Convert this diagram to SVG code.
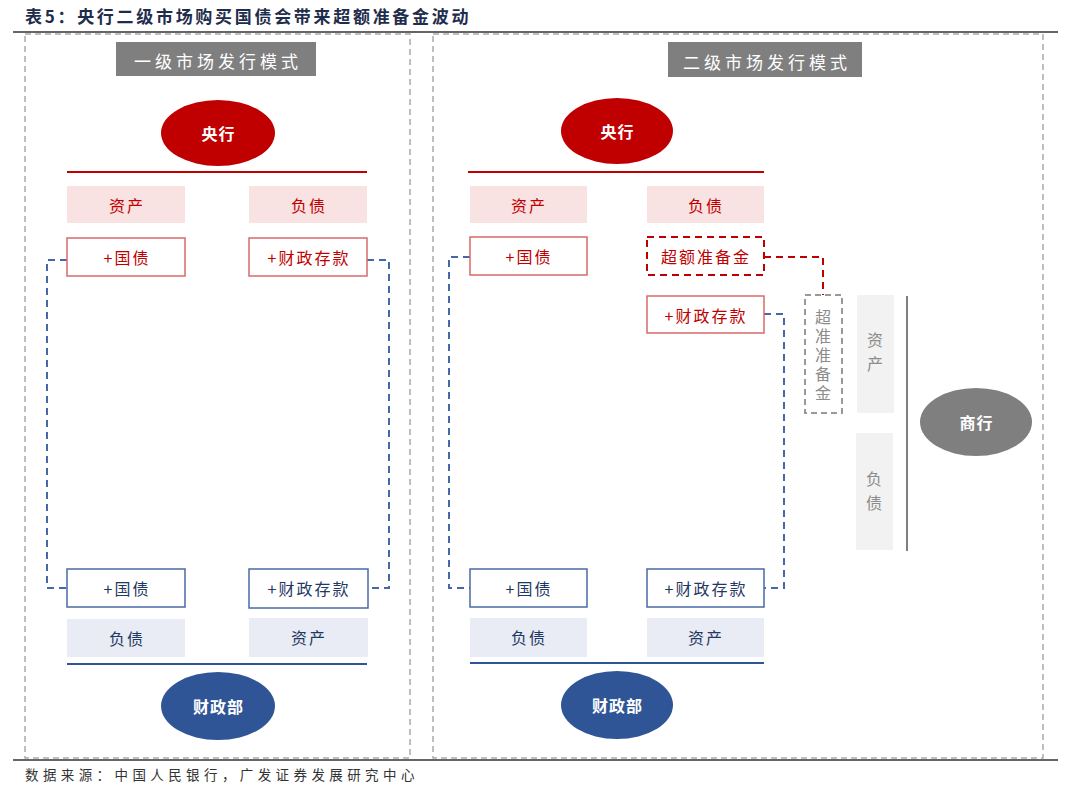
<svg xmlns="http://www.w3.org/2000/svg" width="1080" height="794" viewBox="0 0 1080 794">
<style>
text{font-family:"Noto Sans CJK SC","Noto Sans",sans-serif;text-anchor:middle;dominant-baseline:central}
.panel{fill:none;stroke:#aaaaaa;stroke-width:1.5;stroke-dasharray:6 4}
.hdr{fill:#7f7f7f}
.hdrt{fill:#fff;font-size:17px;letter-spacing:4px}
.ov{font-size:16px;fill:#fff;font-weight:bold;letter-spacing:1px}
.rl{fill:#f9e2e2}
.rb{fill:#fff;stroke:#d96a6a;stroke-width:1.5}
.rt{fill:#c00000;font-size:16px;letter-spacing:2px}
.bl{fill:#e9ecf4}
.bb{fill:#fff;stroke:#4a6aa5;stroke-width:1.5}
.bt{fill:#1f3864;font-size:16px;letter-spacing:2px}
.gl{fill:#f2f2f2}
.gt{fill:#8c8c8c;font-size:16px;writing-mode:vertical-rl}
.bd{fill:none;stroke:#4468a8;stroke-width:2;stroke-dasharray:7 5}
.rd{fill:none;stroke:#c00000;stroke-width:2;stroke-dasharray:7 5}
</style>
<rect width="1080" height="794" fill="#fff"/>
<text x="25" y="15" style="text-anchor:start;font-size:17px;font-weight:bold;fill:#1f2d4d;letter-spacing:2.7px">表5：央行二级市场购买国债会带来超额准备金波动</text>
<line x1="13" y1="32" x2="1058" y2="32" stroke="#333" stroke-width="1.5"/>
<line x1="13" y1="760" x2="1058" y2="760" stroke="#333" stroke-width="1.5"/>
<text x="25" y="774" style="text-anchor:start;font-size:13.5px;fill:#333;letter-spacing:4.4px">数据来源：中国人民银行，广发证券发展研究中心</text>
<rect class="panel" x="25" y="34" width="385" height="724"/>
<rect class="panel" x="433" y="34" width="610" height="724"/>

<g id="connectors">
<path class="bd" d="M67,260 H47 V588 H67"/>
<path class="bd" d="M367,260 H389 V588 H367"/>
<path class="bd" d="M470,257 H449 V588 H470"/>
<path class="bd" d="M764,314 H784 V588 H764"/>
<path class="rd" d="M764,257 H823 V295"/>
</g>

<g id="hdr1"><rect class="hdr" x="116" y="42" width="200" height="34"/><text class="hdrt" x="218" y="60">一级市场发行模式</text></g>
<g id="hdr2"><rect class="hdr" x="668" y="42" width="194" height="35"/><text class="hdrt" x="767" y="61">二级市场发行模式</text></g>

<g id="cb1"><ellipse cx="218" cy="133" rx="57" ry="33" fill="#c00000"/><text class="ov" x="218.5" y="133">央行</text></g>
<line x1="67" y1="172" x2="367" y2="172" stroke="#c00000" stroke-width="2"/>
<g id="l-asset"><rect class="rl" x="67" y="186" width="118" height="37"/><text class="rt" x="127" y="205">资产</text></g>
<g id="l-liab"><rect class="rl" x="249" y="186" width="118" height="37"/><text class="rt" x="309" y="205">负债</text></g>
<g id="l-gz"><rect class="rb" x="67" y="238" width="118" height="38"/><text class="rt" x="127" y="257">+国债</text></g>
<g id="l-czck"><rect class="rb" x="249" y="238" width="118" height="38"/><text class="rt" x="309" y="257">+财政存款</text></g>

<g id="l-gz2"><rect class="bb" x="67" y="569" width="118" height="38"/><text class="bt" x="127" y="588">+国债</text></g>
<g id="l-czck2"><rect class="bb" x="249" y="569" width="119" height="39"/><text class="bt" x="309" y="588">+财政存款</text></g>
<g id="l-liab2"><rect class="bl" x="67" y="619" width="118" height="38"/><text class="bt" x="127" y="638">负债</text></g>
<g id="l-asset2"><rect class="bl" x="249" y="618" width="119" height="39"/><text class="bt" x="309" y="637">资产</text></g>
<line x1="67" y1="664" x2="367" y2="664" stroke="#2f5597" stroke-width="2"/>
<g id="mof1"><ellipse cx="218" cy="706" rx="57" ry="34" fill="#2f5597"/><text class="ov" x="218.5" y="706">财政部</text></g>

<g id="cb2"><ellipse cx="617" cy="131" rx="56" ry="33" fill="#c00000"/><text class="ov" x="617.5" y="131">央行</text></g>
<line x1="468" y1="172" x2="764" y2="172" stroke="#c00000" stroke-width="2"/>
<g id="r-asset"><rect class="rl" x="470" y="186" width="117" height="37"/><text class="rt" x="529" y="205">资产</text></g>
<g id="r-liab"><rect class="rl" x="647" y="186" width="117" height="37"/><text class="rt" x="706" y="205">负债</text></g>
<g id="r-gz"><rect class="rb" x="470" y="237" width="117" height="38"/><text class="rt" x="529" y="256">+国债</text></g>
<g id="r-ce"><rect x="647" y="237" width="117" height="38" fill="#fff" stroke="#c00000" stroke-width="2" stroke-dasharray="7 5"/><text class="rt" x="706" y="256">超额准备金</text></g>
<g id="r-czck"><rect class="rb" x="647" y="296" width="117" height="37"/><text class="rt" x="706" y="315">+财政存款</text></g>

<g id="cz"><rect x="805" y="295" width="37" height="118" fill="none" stroke="#999" stroke-width="2" stroke-dasharray="6 4"/>
<text class="gt" x="823" y="356" style="letter-spacing:3px">超准准备金</text></g>
<g id="cb-asset"><rect class="gl" x="857" y="295" width="37" height="118"/><text class="gt" x="875" y="356" style="letter-spacing:8px">资产</text></g>
<g id="cb-liab"><rect class="gl" x="856" y="433" width="37" height="117"/><text class="gt" x="874" y="495" style="letter-spacing:8px">负债</text></g>
<line x1="907" y1="296" x2="907" y2="551" stroke="#7f7f7f" stroke-width="2"/>
<g id="cbank"><ellipse cx="976" cy="422" rx="56" ry="34" fill="#7f7f7f"/><text class="ov" x="976.5" y="422">商行</text></g>

<g id="r-gz2"><rect class="bb" x="470" y="569" width="117" height="38"/><text class="bt" x="529" y="588">+国债</text></g>
<g id="r-czck2"><rect class="bb" x="647" y="569" width="117" height="38"/><text class="bt" x="706" y="588">+财政存款</text></g>
<g id="r-liab2"><rect class="bl" x="470" y="618" width="117" height="39"/><text class="bt" x="529" y="637">负债</text></g>
<g id="r-asset2"><rect class="bl" x="647" y="618" width="117" height="39"/><text class="bt" x="706" y="637">资产</text></g>
<line x1="470" y1="663" x2="764" y2="663" stroke="#2f5597" stroke-width="2"/>
<g id="mof2"><ellipse cx="617" cy="705" rx="56" ry="34" fill="#2f5597"/><text class="ov" x="617.5" y="705">财政部</text></g>
</svg>
